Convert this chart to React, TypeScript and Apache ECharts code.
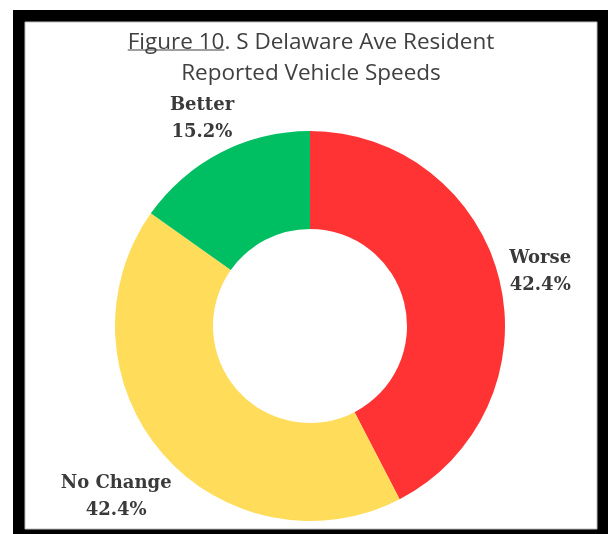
import React, { useEffect, useRef } from "react";
import * as echarts from "echarts";

const TITLE_UNDERLINED = "Figure 10";
const TITLE_REST = ". S Delaware Ave Resident";
const TITLE_LINE2 = "Reported Vehicle Speeds";

const categories = ["Worse", "No Change", "Better"];
const values = [42.4, 42.4, 15.2];
const colors = ["#FF3333", "#FFDC5A", "#00BF63"];
const labelOffsets = [42, 62, 40];

const TITLE_FONT = "Open Sans";
const TITLE_SIZE = 22.5;
const TITLE_COLOR = "#404040";
const LABEL_FONT = "DejaVu Serif";

export default function App() {
  const ref = useRef<HTMLDivElement>(null);
  useEffect(() => {
    if (!ref.current) return;
    const chart = echarts.init(ref.current, null, { renderer: "svg" });
    const canvas = document.createElement("canvas");
    const ctx = canvas.getContext("2d")!;
    ctx.font = `${TITLE_SIZE}px "${TITLE_FONT}"`;
    const w1 = ctx.measureText(TITLE_UNDERLINED).width;
    const w2 = ctx.measureText(TITLE_REST).width;
    const cx = 311;
    const startX = cx - (w1 + w2) / 2;
    const line1Y = 40;
    const line2Y = 71;

    const titleStyle = {
      fontFamily: TITLE_FONT,
      fontSize: TITLE_SIZE,
      fill: TITLE_COLOR,
      textVerticalAlign: "middle",
    };

    chart.setOption({
      animation: false,
      graphic: [
        { type: "rect", z: 0, shape: { x: 13, y: 10, width: 600, height: 530 }, style: { fill: "#000" } },
        { type: "rect", z: 1, shape: { x: 25, y: 22, width: 572, height: 507 }, style: { fill: "#fff", stroke: "#bdbdbd", lineWidth: 1 } },
        { type: "text", z: 5, x: startX, y: line1Y, style: { ...titleStyle, text: TITLE_UNDERLINED, textAlign: "left" } },
        { type: "text", z: 5, x: startX + w1, y: line1Y, style: { ...titleStyle, text: TITLE_REST, textAlign: "left" } },
        { type: "line", z: 5, shape: { x1: startX, y1: line1Y + 10, x2: startX + w1, y2: line1Y + 10 }, style: { stroke: TITLE_COLOR, lineWidth: 1.2 } },
        { type: "text", z: 5, x: cx, y: line2Y, style: { ...titleStyle, text: TITLE_LINE2, textAlign: "center" } },
      ],
      series: [
        {
          type: "pie",
          z: 10,
          center: [310, 326],
          radius: [97, 195],
          startAngle: 90,
          clockwise: true,
          avoidLabelOverlap: false,
          label: {
            show: true,
            position: "outside",
            formatter: "{b}\n{c}%",
            fontFamily: LABEL_FONT,
            fontWeight: "bold",
            fontSize: 18,
            color: "#3a3a3a",
            lineHeight: 27,
            distanceToLabelLine: 0,
          },
          labelLine: { show: false, length2: 0 },
          labelLayout: () => ({ align: "center", verticalAlign: "middle" }),
          emphasis: { disabled: true },
          data: categories.map((name, i) => ({
            name,
            value: values[i],
            itemStyle: { color: colors[i] },
            labelLine: { show: false, length: labelOffsets[i], length2: 0 },
          })),
        },
      ],
    });
    return () => chart.dispose();
  }, []);
  return <div ref={ref} style={{ position: "fixed", left: 0, top: 0, width: 608, height: 534 }} />;
}
